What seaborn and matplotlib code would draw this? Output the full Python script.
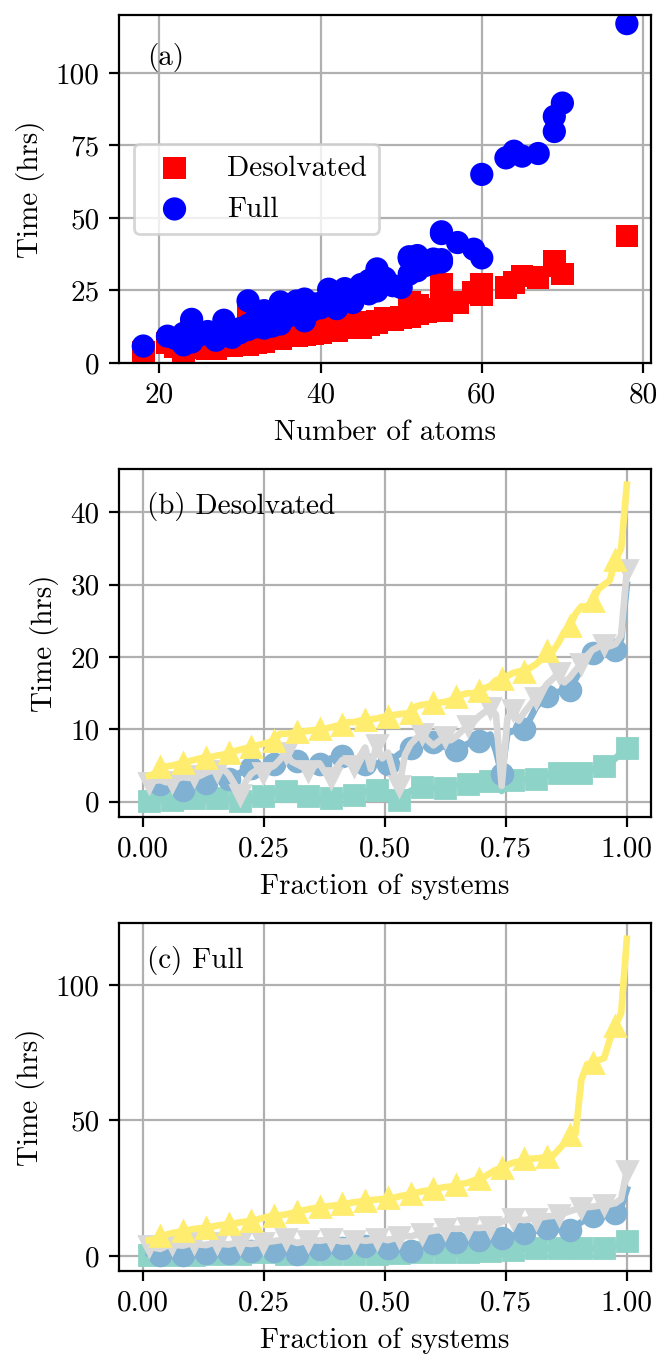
import numpy as np
import matplotlib
import matplotlib.pyplot as plt
import seaborn as sns
from matplotlib.ticker import FormatStrFormatter

matplotlib.use("Agg")

# ---- panel (a): timing per system ----
atoms = [18, 21, 22, 23, 23, 24, 24, 25, 26, 27, 28, 28, 29, 29, 30, 30, 31, 31, 31,
         32, 32, 33, 33, 33, 34, 34, 34, 35, 35, 35, 36, 36, 36, 37, 37, 37, 38, 38, 38,
         39, 39, 40, 40, 41, 41, 42, 42, 43, 43, 44, 44, 45, 45, 46, 46, 47, 47, 48, 48,
         49, 50, 51, 51, 51, 52, 52, 53, 54, 54, 55, 55, 55, 55, 57, 59, 60, 60, 63, 64,
         65, 67, 69, 69, 70, 78]

desolvated = [3.6, 6.8, 5.4, 3.9, 5.0, 5.2, 11.7, 5.6, 4.8, 4.9, 5.8, 6.5, 6.0, 6.2, 6.4, 7.2,
              6.1, 7.6, 17.4, 7.0, 8.0, 7.4, 7.8, 9.8, 8.2, 10.1, 10.3, 8.4, 9.4, 11.3, 10.6,
              9.5, 11.5, 9.4, 9.6, 11.2, 9.7, 9.9, 12.3, 10.0, 11.7, 10.5, 11.0, 11.4, 13.6,
              11.0, 13.5, 12.1, 15.0, 12.0, 13.8, 12.2, 13.4, 13.2, 14.0, 13.7, 14.5, 14.8,
              15.3, 15.0, 15.7, 16.0, 20.8, 17.0, 16.8, 19.7, 17.8, 18.0, 18.5, 18.0, 19.0,
              27.0, 22.0, 20.8, 24.3, 23.5, 27.0, 26.0, 27.7, 30.0, 29.4, 33.4, 35.0, 30.6,
              43.8]

full = [5.8, 9.2, 8.4, 6.2, 10.2, 7.2, 15.0, 9.6, 10.8, 7.8, 10.0, 14.7, 8.8, 11.2, 10.4,
        11.8, 11.5, 13.0, 21.4, 12.4, 15.3, 12.0, 14.0, 18.0, 12.7, 16.8, 17.6, 13.4, 15.8,
        21.0, 16.2, 18.5, 20.0, 17.2, 19.8, 21.3, 14.5, 19.4, 22.0, 18.2, 20.4, 19.0, 20.6,
        22.9, 25.4, 18.7, 22.4, 24.2, 25.6, 20.8, 23.4, 25.0, 27.0, 23.8, 28.4, 24.8, 32.4,
        27.8, 29.2, 26.6, 26.0, 30.6, 36.0, 36.6, 31.8, 37.0, 33.6, 34.4, 35.8, 34.8, 35.6,
        44.6, 45.2, 41.5, 39.2, 36.2, 65.0, 70.7, 73.0, 71.3, 72.2, 79.8, 85.0, 89.6, 117.0]

# ---- panel (b): desolvated, ordered by increasing time ----
teal_b = [0.1, 0.2, 0.4, 0.3, 0.3, 0.5, 0.6, 0.5, 0.55, 0.5, 0.6, 0.6, 0.55, 0.4, 0.3, 0.2,
          0.1, 0.4, 0.6, 0.7, 0.8, 1.0, 1.3, 1.4, 1.5, 1.2, 1.0, 0.9, 0.8, 0.7, 0.6, 0.6,
          0.55, 0.7, 0.8, 0.9, 1.0, 1.2, 1.4, 1.6, 1.7, 1.3, 0.8, 0.5, 0.3, 0.9, 1.5, 1.8,
          2.0, 2.0, 1.9, 1.9, 1.9, 2.1, 2.3, 2.4, 2.5, 2.6, 2.8, 2.9, 2.9, 2.5, 1.5, 2.7,
          3.0, 3.0, 3.1, 3.1, 3.1, 3.4, 3.7, 3.9, 4.0, 4.0, 4.0, 4.0, 4.0, 4.2, 4.5, 4.7,
          4.9, 5.4, 6.0, 6.8, 7.5]
blue_b = [2.8, 2.6, 2.4, 2.0, 1.8, 1.7, 1.7, 2.0, 2.3, 2.5, 2.6, 2.8, 3.0, 3.1, 3.1, 3.5,
          4.0, 4.4, 4.7, 4.9, 5.0, 5.1, 5.2, 5.3, 5.5, 5.6, 5.6, 5.4, 5.3, 5.2, 5.2, 5.6,
          6.0, 6.2, 6.3, 6.0, 5.6, 5.3, 5.2, 5.4, 5.3, 5.2, 5.2, 6.0, 6.6, 7.1, 7.5, 7.8,
          8.0, 8.1, 8.2, 7.9, 7.6, 7.4, 7.2, 7.6, 8.0, 8.2, 8.4, 8.9, 9.3, 7.0, 3.8, 9.5,
          9.8, 9.9, 10.0, 11.5, 13.0, 14.0, 14.6, 15.0, 15.2, 15.4, 15.5, 17.0, 18.5, 19.8,
          20.5, 20.8, 21.0, 21.0, 21.0, 22.5, 30.0]
gray_b = [2.6, 2.9, 3.0, 2.7, 2.8, 3.2, 3.4, 3.3, 3.5, 3.6, 4.0, 4.3, 4.2, 4.6, 3.8, 2.5,
          1.0, 2.8, 3.9, 4.4, 4.0, 4.6, 5.0, 5.8, 6.8, 5.6, 5.2, 4.8, 4.2, 4.9, 5.3, 4.0,
          3.3, 4.8, 5.8, 5.4, 5.0, 6.2, 7.5, 4.5, 7.9, 6.0, 6.8, 4.0, 2.2, 6.5, 8.0, 8.8,
          9.4, 8.5, 7.8, 8.4, 8.9, 8.5, 9.0, 9.8, 10.5, 11.0, 11.8, 12.4, 13.0, 12.0, 2.2,
          11.5, 12.7, 11.2, 12.4, 13.4, 14.4, 15.2, 16.3, 17.0, 17.8, 16.5, 17.2, 18.2,
          19.0, 20.2, 21.0, 21.4, 21.7, 21.5, 21.8, 23.0, 32.0]

# ---- panel (c): full, ordered by increasing time ----
teal_c = [0.3, 0.4, 0.4, 0.5, 0.5, 0.5, 0.6, 0.5, 0.5, 0.6, 0.6, 0.7, 0.7, 0.8, 0.8, 0.9,
          0.9, 1.0, 1.1, 1.2, 1.3, 1.2, 1.1, 1.0, 0.9, 0.8, 0.7, 0.7, 0.6, 0.6, 0.6, 0.6,
          0.6, 0.7, 0.8, 0.8, 0.9, 0.9, 0.9, 0.9, 0.9, 1.0, 1.1, 1.2, 1.2, 1.3, 1.4, 1.5,
          1.6, 1.6, 1.6, 1.6, 1.6, 1.6, 1.6, 1.6, 1.6, 1.7, 1.7, 1.8, 1.8, 1.9, 2.0, 2.1,
          2.2, 2.4, 2.6, 2.8, 2.9, 2.9, 2.9, 2.9, 2.9, 2.9, 2.9, 2.9, 2.9, 2.9, 2.9, 2.9,
          2.9, 3.3, 3.9, 4.6, 5.7]
blue_c = [1.0, 0.8, 0.5, 0.4, 0.3, 0.3, 0.3, 0.5, 0.8, 0.9, 1.0, 1.0, 1.0, 1.0, 1.0, 1.3,
          1.5, 1.7, 1.8, 1.8, 1.8, 1.8, 1.8, 1.5, 1.2, 1.0, 0.8, 1.3, 1.8, 2.2, 2.5, 2.6,
          2.8, 2.9, 3.0, 3.1, 3.3, 3.4, 3.5, 3.3, 3.0, 2.8, 2.8, 2.6, 2.4, 2.2, 2.0, 2.8,
          3.6, 4.2, 4.7, 4.9, 5.0, 5.2, 5.3, 5.5, 5.7, 5.8, 6.0, 6.2, 6.3, 6.5, 6.6, 7.0,
          7.5, 8.0, 8.4, 8.8, 9.4, 9.9, 10.3, 10.0, 9.8, 9.7, 9.7, 11.0, 12.5, 13.8, 14.6,
          15.0, 15.4, 15.7, 15.9, 18.0, 24.6]
gray_c = [3.7, 3.0, 2.6, 3.6, 4.3, 4.0, 3.8, 4.4, 4.9, 4.2, 4.0, 4.6, 4.9, 4.4, 4.2, 4.7,
          4.9, 4.6, 4.4, 4.7, 4.9, 5.2, 5.5, 5.8, 6.1, 5.6, 4.8, 5.2, 5.5, 5.8, 5.6, 5.9,
          6.1, 5.7, 5.3, 5.4, 5.5, 5.9, 5.6, 5.8, 6.1, 6.3, 5.8, 6.4, 7.0, 7.4, 7.2, 7.8,
          8.2, 8.9, 9.3, 9.6, 10.0, 10.2, 10.0, 10.1, 10.2, 10.4, 10.3, 10.5, 10.6, 11.5,
          12.6, 13.3, 13.7, 13.5, 13.2, 13.6, 13.8, 14.2, 14.6, 14.8, 15.0, 15.8, 16.5,
          17.2, 17.7, 18.0, 18.2, 18.5, 18.7, 19.0, 19.5, 21.0, 31.5]

COLORS = {"teal": "#8dd3c7", "blue": "#80b1d3", "gray": "#d9d9d9", "yellow": "#ffed6f"}

plt.rcParams.update(
    {
        "font.family": ["cmr10", "DejaVu Serif"],
        "font.size": 10.5,
        "mathtext.fontset": "cm",
        "axes.unicode_minus": False,
        "axes.grid": True,
        "axes.axisbelow": True,
    }
)


def fraction_panel(ax, yellow, teal, blue, gray, label):
    frac = np.arange(1, len(yellow) + 1) / len(yellow)
    # markers on every 4th system, staggered between the series
    series = [
        (teal, "teal", "s", (0, 4)),
        (blue, "blue", "o", (2, 4)),
        (gray, "gray", "v", (0, 4)),
        (yellow, "yellow", "^", (2, 4)),
    ]
    for values, name, marker, every in series:
        sns.lineplot(
            x=frac,
            y=values,
            ax=ax,
            color=COLORS[name],
            marker=marker,
            markevery=every,
            markersize=7.5,
            markeredgecolor=COLORS[name],
            markeredgewidth=1,
            linewidth=2.4,
            sort=False,
            errorbar=None,
        )
    ax.set_xlim(-0.05, 1.05)
    ax.set_xticks([0, 0.25, 0.5, 0.75, 1.0])
    ax.xaxis.set_major_formatter(FormatStrFormatter("%.2f"))
    ax.yaxis.set_major_formatter(FormatStrFormatter("%d"))
    ax.set_xlabel("Fraction of systems")
    ax.set_ylabel("Time (hrs)")
    ax.text(0.053, 0.935, label, transform=ax.transAxes, va="top", ha="left")


fig, axes = plt.subplots(3, 1, figsize=(3.29, 6.785), dpi=200)
fig.subplots_adjust(left=0.181, right=0.9894, top=0.989, bottom=0.0634, hspace=0.305)

# (a) scatter of run time vs size
ax = axes[0]
sns.scatterplot(x=atoms, y=desolvated, ax=ax, marker="s", color="red", s=66,
                edgecolor="none", label="Desolvated")
sns.scatterplot(x=atoms, y=full, ax=ax, marker="o", color="blue", s=70,
                edgecolor="none", label="Full")
ax.set_ylim(0, 120)
ax.set_yticks([0, 25, 50, 75, 100])
ax.set_xticks([20, 40, 60, 80])
ax.xaxis.set_major_formatter(FormatStrFormatter("%d"))
ax.yaxis.set_major_formatter(FormatStrFormatter("%d"))
ax.set_xlabel("Number of atoms")
ax.set_ylabel("Time (hrs)")
ax.legend(loc="center left")
ax.text(0.053, 0.92, "(a)", transform=ax.transAxes, va="top", ha="left")

# (b) desolvated, (c) full
fraction_panel(axes[1], np.sort(desolvated), teal_b, blue_b, gray_b, "(b) Desolvated")
axes[1].set_yticks([0, 10, 20, 30, 40])
fraction_panel(axes[2], np.sort(full), teal_c, blue_c, gray_c, "(c) Full")
axes[2].set_yticks([0, 50, 100])

fig.savefig("out.png", dpi=200)
